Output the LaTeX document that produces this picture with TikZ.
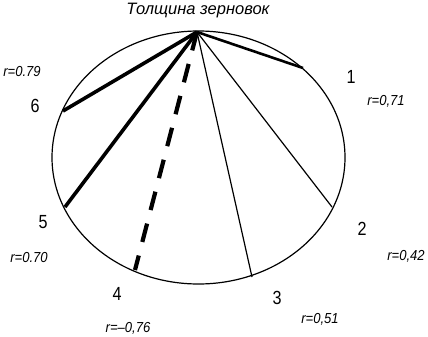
\documentclass[tikz,border=0pt]{standalone}
\usepackage{fontspec}
\setmainfont{Liberation Sans}
\begin{document}
\begin{tikzpicture}[x=1pt,y=-1pt,
  thinln/.style={line width=1.2pt},
  thickln/.style={line width=3.6pt},
  medln/.style={line width=2.6pt},
  dashln/.style={line width=4.2pt,dash pattern=on 19pt off 14pt},
  numlbl/.style={font=\fontsize{19}{19}\selectfont,inner sep=0pt,xscale=0.85},
  rlbl/.style={font=\fontsize{14.5}{14.5}\selectfont\itshape,inner sep=0pt,xscale=0.9},
  titlelbl/.style={font=\fontsize{16.5}{16.5}\selectfont\itshape,inner sep=0pt}]
\useasboundingbox (0,0) rectangle (428,337);
\draw[thinln] (198.5,157.5) ellipse [x radius=146.5, y radius=126.5];
\coordinate (apex) at (197,32);
\coordinate (p1) at (303,68);
\coordinate (p2) at (332,207);
\coordinate (p3) at (252,277);
\coordinate (p4) at (135,270);
\coordinate (p5) at (65,207);
\coordinate (p6) at (63,111);
\draw[medln] (apex) -- (p1);
\draw[thinln] (apex) -- (p2);
\draw[thinln] (apex) -- (p3);
\draw[dashln] (apex) -- (p4);
\draw[thickln] (apex) -- (p5);
\draw[thickln] (apex) -- (p6);
\node[titlelbl] (title) at (198,11) {Толщина зерновок};
\node[numlbl] (n1) at (351,77) {1};
\node[numlbl] (n2) at (362,229) {2};
\node[numlbl] (n3) at (277,298) {3};
\node[numlbl] (n4) at (117,294) {4};
\node[numlbl] (n5) at (43,222) {5};
\node[numlbl] (n6) at (35,106) {6};
\node[rlbl] (r1) at (386,101) {r=0,71};
\node[rlbl] (r2) at (406,256) {r=0,42};
\node[rlbl] (r3) at (320,319) {r=0,51};
\node[rlbl] (r4) at (128,328) {r=–0,76};
\node[rlbl] (r5) at (29,258) {r=0.70};
\node[rlbl] (r6) at (22,72) {r=0.79};
\end{tikzpicture}
\end{document}
